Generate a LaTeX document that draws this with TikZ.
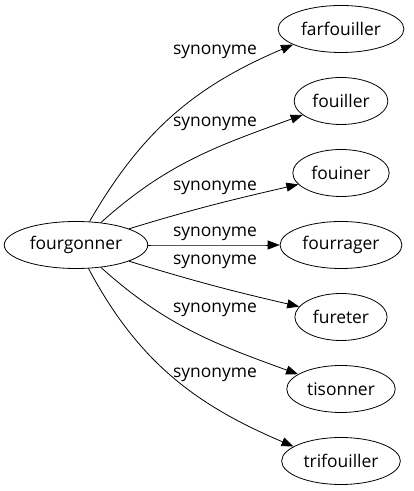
\documentclass[tikz,border=0pt]{standalone}
\usepackage{fontspec}
\setmainfont{Open Sans}
\usetikzlibrary{shapes.geometric,arrows.meta}
\tikzset{
    word/.style={draw, ellipse, minimum height=47bp, inner xsep=4.5bp, font=\fontsize{17.5}{20}\selectfont},
    rel/.style={font=\fontsize{17.5}{20}\selectfont},
    syn/.style={-{Triangle[length=12bp,width=9bp]}},
}
\begin{document}
\begin{tikzpicture}[x=1bp,y=1bp,line width=0.8bp]
    \useasboundingbox (0,0) rectangle (413,491);
    \def\tx{341}
    \def\lx{215}

    \node[word] (fourgonner) at (76,246) {fourgonner};

    \foreach \word/\yy/\ly/\outang/\inang/\endang in {
        farfouiller/462/439/60/203/198,
        fouiller/390/367/42/200/200,
        fouiner/318/303/17/193/195,
        fourrager/246/257/0/180/180,
        fureter/174/229/-17/167/166,
        tisonner/102/181/-42/160/161,
        trifouiller/30/116/-62/157/163} {
        \node[word] (\word) at (\tx,\yy) {\word};
        \node[rel] (lab-\word) at (\lx,\ly) {synonyme};
        \draw[syn] (fourgonner.\outang) to[out=\outang,in=\inang] (\word.\endang);
    }

\end{tikzpicture}
\end{document}
